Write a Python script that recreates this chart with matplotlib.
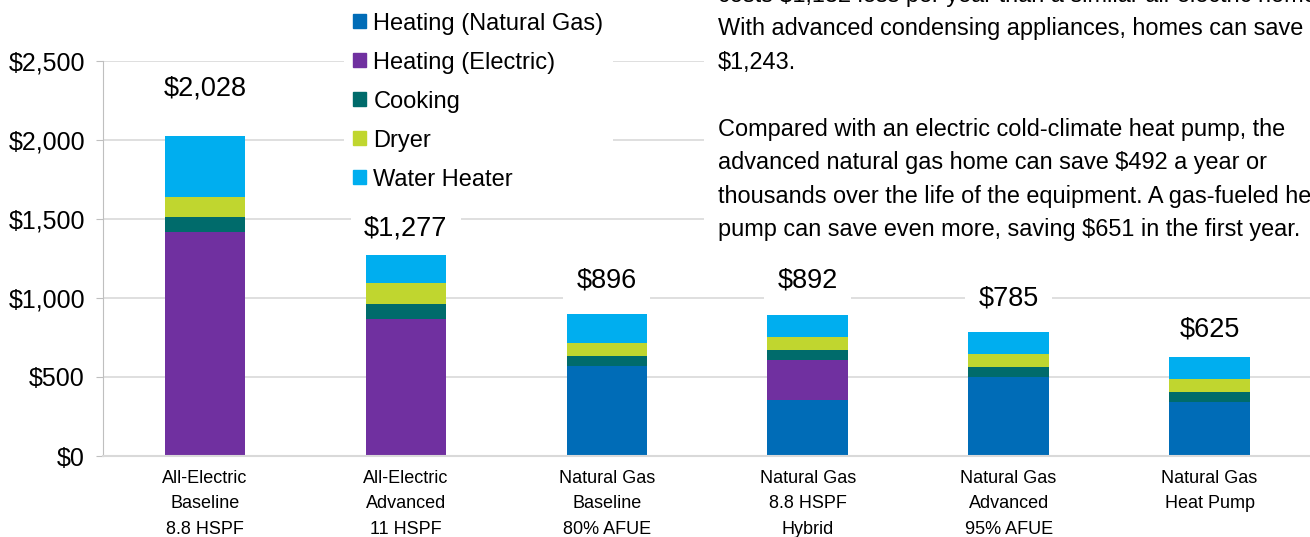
import numpy as np
import matplotlib.pyplot as plt
from matplotlib.patches import Patch

plt.rcParams['font.family'] = ['Liberation Sans', 'DejaVu Sans']

categories = [
    "All-Electric\nBaseline\n8.8 HSPF",
    "All-Electric\nAdvanced\n11 HSPF",
    "Natural Gas\nBaseline\n80% AFUE",
    "Natural Gas\n8.8 HSPF\nHybrid",
    "Natural Gas\nAdvanced\n95% AFUE",
    "Natural Gas\nHeat Pump",
]
heating_gas = [0, 0, 568, 354, 500, 340]
heating_elec = [1416, 867, 0, 252, 0, 0]
cooking = [95, 95, 65, 65, 65, 65]
dryer = [130, 133, 82, 82, 82, 82]
water_heater = [387, 182, 181, 139, 138, 138]
totals = [2028, 1277, 896, 892, 785, 625]

series_names = ["Heating (Natural Gas)", "Heating (Electric)", "Cooking", "Dryer", "Water Heater"]
series_colors = ["#006cb7", "#7030a0", "#006b6b", "#c0d62f", "#00aeef"]

note = ("costs $1,132 less per year than a similar all-electric home.\n"
        "With advanced condensing appliances, homes can save\n"
        "$1,243.\n"
        "\n"
        "Compared with an electric cold-climate heat pump, the\n"
        "advanced natural gas home can save $492 a year or\n"
        "thousands over the life of the equipment. A gas-fueled heat\n"
        "pump can save even more, saving $651 in the first year.")

fig = plt.figure(figsize=(13.1, 5.37), dpi=100)
ax = fig.add_axes([103 / 1310, 1 - 456 / 537, 1 - 103 / 1310, (456 - 61) / 537])

x = np.arange(len(categories))
bottom = np.zeros(len(categories))
for vals, name, col in zip([heating_gas, heating_elec, cooking, dryer, water_heater],
                           series_names, series_colors):
    ax.bar(x, vals, 0.4, bottom=bottom, color=col, label=name, zorder=2)
    bottom += np.array(vals)

# total labels above each bar
label_pad = [47, 26, 34, 35, 33, 28]
for xi, t, p in zip(x, totals, label_pad):
    ax.annotate(f"${t:,}", (xi, t), xytext=(0, p * 0.72), textcoords="offset points",
                ha="center", va="center", fontsize=19.5, zorder=4,
                bbox=dict(boxstyle="square,pad=0.5", fc="white", ec="none"))

ax.set_xlim(-0.507, 5.5)
ax.set_ylim(0, 2500)
ax.set_yticks(np.arange(0, 2501, 500))
ax.set_yticklabels([f"${v:,}" for v in range(0, 2501, 500)])
ax.set_xticks(x)
ax.set_xticklabels(categories, fontsize=13, linespacing=1.65)
ax.tick_params(axis="y", labelsize=18, length=5, color="#bfbfbf", pad=8)
ax.tick_params(axis="x", length=0, pad=10)
ax.grid(axis="y", color="#d9d9d9", linewidth=1.2, zorder=0)
ax.set_axisbelow(True)
for s in ["top", "right"]:
    ax.spines[s].set_visible(False)
ax.spines["left"].set_color("#bfbfbf")
ax.spines["bottom"].set_color("#d9d9d9")
ax.spines["bottom"].set_linewidth(1.5)

handles = [Patch(color=c, label=n) for n, c in zip(series_names, series_colors)]
leg = fig.legend(handles=handles, loc="upper left", bbox_to_anchor=(332 / 1310, 1.016),
                 fontsize=17, frameon=True, fancybox=False, edgecolor="none",
                 facecolor="white", framealpha=1, handlelength=0.55, handleheight=0.55,
                 handletextpad=0.3, labelspacing=0.72, borderpad=0.4)
leg.set_zorder(5)

fig.text(718 / 1310, 1 + 16 / 537, note, ha="left", va="top", fontsize=16.9,
         linespacing=1.58, zorder=6,
         bbox=dict(boxstyle="square,pad=0.6", fc="white", ec="none"))

fig.savefig("out.png", dpi=100)
